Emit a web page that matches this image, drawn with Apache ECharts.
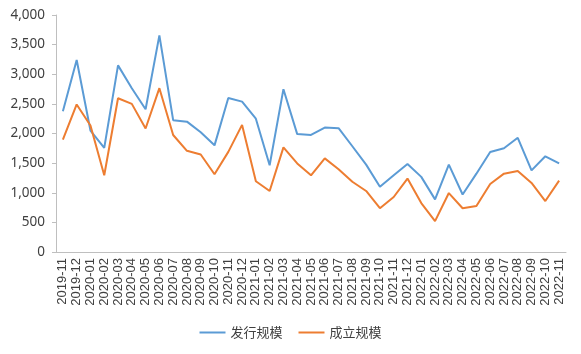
<!DOCTYPE html>
<html>
<head>
<meta charset="utf-8">
<script src="https://cdn.jsdelivr.net/npm/echarts@6/dist/echarts.min.js"></script>
<style>
    html, body { margin: 0; padding: 0; background: #fff; }
    #chart { width: 581px; height: 354px; }
</style>
</head>
<body>
<div id="chart"></div>
<script>
const months = [
    '2019-11', '2019-12',
    '2020-01', '2020-02', '2020-03', '2020-04', '2020-05', '2020-06',
    '2020-07', '2020-08', '2020-09', '2020-10', '2020-11', '2020-12',
    '2021-01', '2021-02', '2021-03', '2021-04', '2021-05', '2021-06',
    '2021-07', '2021-08', '2021-09', '2021-10', '2021-11', '2021-12',
    '2022-01', '2022-02', '2022-03', '2022-04', '2022-05', '2022-06',
    '2022-07', '2022-08', '2022-09', '2022-10', '2022-11'
]
// 发行规模
const issued = [
    2375, 3240,
    2050, 1756, 3150, 2765, 2410, 3655,
    2225, 2200, 2020, 1800, 2600, 2538,
    2250, 1465, 2748, 1990, 1975, 2100,
    2090, 1785, 1475, 1100, 1295, 1485,
    1268, 888, 1475, 970, 1322, 1688,
    1752, 1928, 1378, 1615, 1495
]
// 成立规模
const founded = [
    1895, 2490,
    2135, 1295, 2595, 2500, 2085, 2765,
    1975, 1708, 1645, 1312, 1690, 2145,
    1195, 1030, 1765, 1495, 1295, 1580,
    1398, 1185, 1030, 740, 928, 1240,
    826, 522, 995, 738, 775, 1148,
    1322, 1368, 1165, 860, 1205
]

const axisGray = '#bfbfbf'
const textGray = '#404040'

const chart = echarts.init(document.getElementById('chart'))
chart.setOption({
    animation: false,
    grid: {
        left: 56,
        right: 15,
        top: 15,
        bottom: 102
    },
    legend: {
        bottom: 10,
        left: 'center',
        itemWidth: 26,
        itemHeight: 2,
        itemGap: 16,
        icon: 'rect',
        textStyle: {
            fontFamily: 'Noto Sans CJK SC',
            fontSize: 13,
            color: textGray
        },
        data: ['发行规模', '成立规模']
    },
    xAxis: {
        type: 'category',
        boundaryGap: true,
        data: months,
        axisLine: { lineStyle: { color: axisGray } },
        axisTick: { length: 4, lineStyle: { color: axisGray } },
        axisLabel: {
            interval: 0,
            rotate: 90,
            margin: 6,
            fontFamily: 'Liberation Sans',
            fontSize: 13,
            color: textGray
        }
    },
    yAxis: {
        type: 'value',
        min: 0,
        max: 4000,
        interval: 500,
        splitLine: { show: false },
        axisLine: { show: true, lineStyle: { color: axisGray } },
        axisTick: { show: true, length: 4, lineStyle: { color: axisGray } },
        axisLabel: {
            margin: 11,
            fontFamily: 'Noto Sans',
            fontSize: 13.5,
            color: textGray,
            formatter: v => v.toLocaleString('en-US')
        }
    },
    series: [
        {
            name: '发行规模',
            type: 'line',
            data: issued,
            symbol: 'none',
            lineStyle: { width: 2, color: '#5b9bd5' },
            itemStyle: { color: '#5b9bd5' }
        },
        {
            name: '成立规模',
            type: 'line',
            data: founded,
            symbol: 'none',
            lineStyle: { width: 2, color: '#ed7d31' },
            itemStyle: { color: '#ed7d31' }
        }
    ]
})
</script>
</body>
</html>
